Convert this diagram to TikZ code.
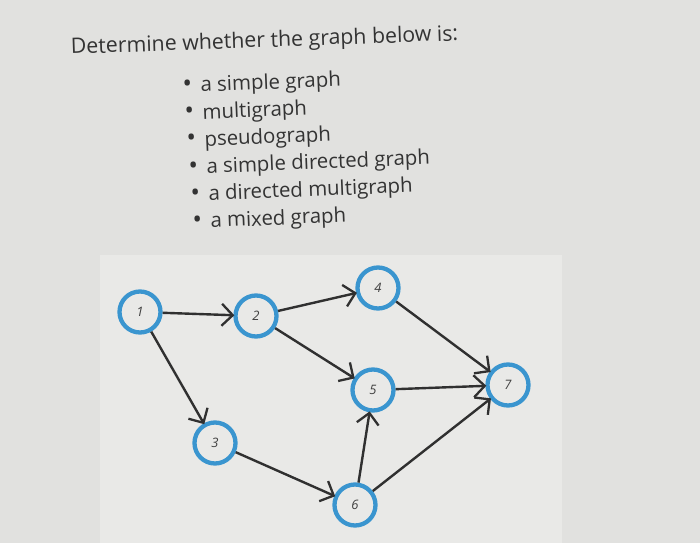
\documentclass[tikz,border=0pt]{standalone}
\usepackage{fontspec}
\setmainfont{Open Sans}
\usetikzlibrary{arrows.meta}
\definecolor{bgc}{HTML}{E1E1DF}
\definecolor{boxc}{HTML}{E9E9E7}
\definecolor{nodeblue}{HTML}{3A95CF}
\definecolor{edgec}{HTML}{303030}
\definecolor{txtc}{HTML}{333333}
\definecolor{numc}{HTML}{404040}
\newcommand{\blt}[1]{\hspace*{#1}\makebox[18pt][l]{\scalebox{1.25}{•}}}
\tikzset{
  vert/.style={circle, draw=nodeblue, line width=4.3pt, minimum size=41pt, inner sep=0pt, fill=boxc,
    font=\fontsize{13}{15}\selectfont\itshape, text=numc},
  arc/.style={draw=edgec, line width=2.4pt, -{Straight Barb[length=11pt,width=22pt,line width=2.3pt]}, shorten >=-1pt},
  titletext/.style={anchor=base west, inner sep=0pt, text=txtc, font=\fontsize{21.3}{24}\selectfont, rotate=2},
  listtext/.style={anchor=north west, inner sep=0pt, text=txtc, align=left, font=\fontsize{20.4}{27.2}\selectfont, rotate=2.3},
}
\begin{document}
\begin{tikzpicture}[x=1pt,y=-1pt]
\useasboundingbox (0,0) rectangle (700,543);
\fill[bgc] (0,0) rectangle (700,543);
\fill[boxc] (100,255) rectangle (562,543);

\node[titletext] (title) at (71,54) {Determine whether the graph below is:};

\node[listtext] (list) at (182,77) {%
\blt{0pt}a simple graph\\
\blt{0.9pt}multigraph\\
\blt{1.8pt}pseudograph\\
\blt{2.7pt}a simple directed graph\\
\blt{3.6pt}a directed multigraph\\
\blt{4.5pt}a mixed graph};

\node[vert] (n1) at (140,312) {1};
\node[vert] (n2) at (256,316) {2};
\node[vert] (n4) at (378,288) {4};
\node[vert] (n5) at (373,390) {5};
\node[vert] (n7) at (508,385) {7};
\node[vert] (n3) at (215,443) {3};
\node[vert] (n6) at (355,505) {6};

\draw[arc] (n1) -- (n2);
\draw[arc] (n1) -- (n3);
\draw[arc] (n2) -- (n4);
\draw[arc] (n2) -- (n5);
\draw[arc] (n4) -- (n7);
\draw[arc] (n5) -- (n7);
\draw[arc] (n3) -- (n6);
\draw[arc] (n6) -- (n5);
\draw[arc] (n6) -- (n7);
\end{tikzpicture}
\end{document}
